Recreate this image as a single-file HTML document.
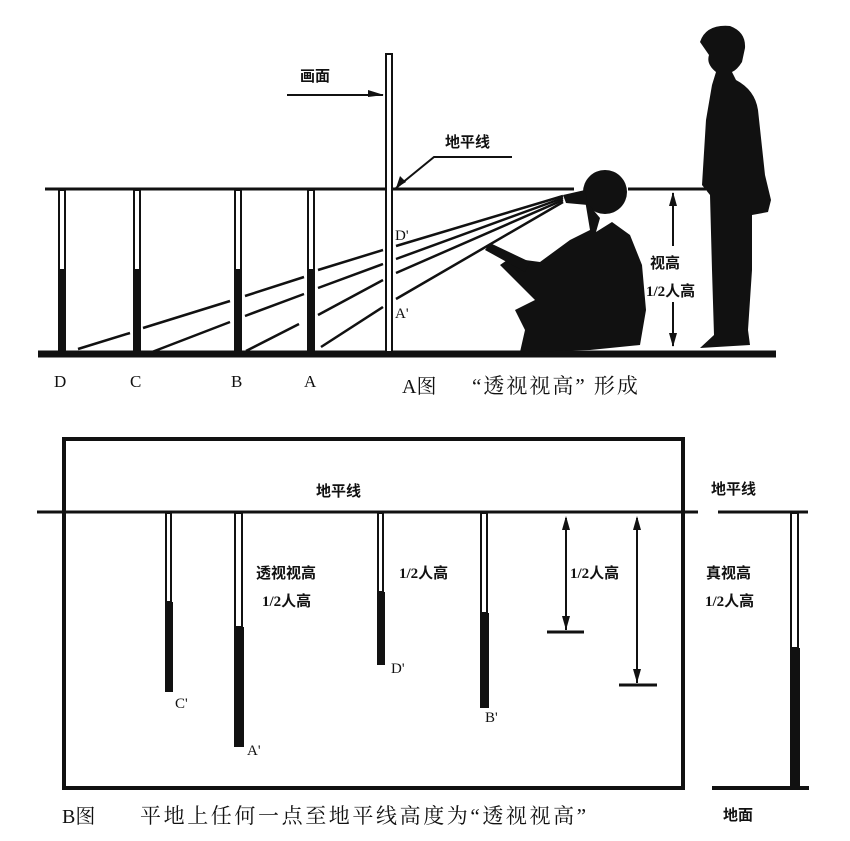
<!DOCTYPE html>
<html><head><meta charset="utf-8"><style>
html,body{margin:0;padding:0;background:#fff;}
svg{display:block;}
text{font-family:"Liberation Serif","Noto Serif CJK SC","Noto Sans CJK SC",serif;fill:#111;}
.l{font-family:"Liberation Serif","Noto Sans CJK SC",sans-serif;font-weight:bold;}
</style></head><body>
<svg width="850" height="841" viewBox="0 0 850 841" xmlns="http://www.w3.org/2000/svg">
<g stroke="#111" fill="none">
<line x1="45" y1="189" x2="574" y2="189" stroke-width="3"/>
<line x1="628" y1="189" x2="706" y2="189" stroke-width="3"/>
<line x1="38" y1="354" x2="776" y2="354" stroke-width="7"/>
<rect x="386" y="54" width="6" height="298" stroke-width="2" fill="#fff"/>
<g stroke-width="2">
<rect x="59" y="190" width="6" height="80" fill="#fff"/>
<rect x="134" y="190" width="6" height="80" fill="#fff"/>
<rect x="235" y="190" width="6" height="80" fill="#fff"/>
<rect x="308" y="190" width="6" height="80" fill="#fff"/>
</g>
<g fill="#111" stroke="none">
<rect x="58" y="270" width="8" height="84"/>
<rect x="133" y="270" width="8" height="84"/>
<rect x="234" y="270" width="8" height="84"/>
<rect x="307" y="270" width="8" height="84"/>
</g>
<g stroke-width="2.5">
<line x1="78" y1="349" x2="130" y2="333"/>
<line x1="143" y1="328" x2="230" y2="301"/>
<line x1="245" y1="296" x2="304" y2="277"/>
<line x1="318" y1="270" x2="383" y2="250"/>
<line x1="396" y1="246" x2="563" y2="196"/>
<line x1="152" y1="352" x2="230" y2="322"/>
<line x1="245" y1="316" x2="304" y2="294"/>
<line x1="318" y1="288" x2="383" y2="264"/>
<line x1="396" y1="259" x2="563" y2="198"/>
<line x1="246" y1="351" x2="299" y2="324"/>
<line x1="318" y1="315" x2="383" y2="280"/>
<line x1="396" y1="273" x2="563" y2="200"/>
<line x1="321" y1="347" x2="383" y2="307"/>
<line x1="396" y1="299" x2="563" y2="202"/>
</g>
<line x1="287" y1="95" x2="383" y2="95" stroke-width="2"/>
<path d="M368 90 L384 95 L368 97 Z" fill="#111" stroke="none"/>
<polyline points="512,157 434,157 396,188" stroke-width="2"/>
<path d="M396 188 L400 176 L406 182 Z" fill="#111" stroke="none"/>
<line x1="673" y1="193" x2="673" y2="246" stroke-width="2"/>
<line x1="673" y1="302" x2="673" y2="346" stroke-width="2"/>
<path d="M673 192 L669 206 L677 206 Z" fill="#111" stroke="none"/>
<path d="M673 347 L669 333 L677 333 Z" fill="#111" stroke="none"/>
</g>
<g fill="#111">
<ellipse cx="605" cy="192" rx="22" ry="22"/>
<path d="M585 200 L600 218 L596 232 L612 222 L630 235 L642 265 L646 310 L640 345 L590 350 L520 352 L525 330 L515 310 L535 300 L520 285 L500 265 L510 258 L540 262 L570 240 L590 230 Z"/>
<path d="M485 250 L490 243 L530 262 L525 272 Z"/>
<path d="M563 195 L585 190 L588 205 L566 203 Z"/>
</g>
<g fill="#111">
<path d="M700 42 Q706 24 730 26 Q746 32 745 48 L742 62 Q737 70 732 72 L736 80 Q755 90 758 110 L765 175 L771 200 L768 212 L752 215 L752 270 L748 330 L750 345 L700 348 L714 335 L712 270 L710 195 L702 185 L706 120 L712 85 L716 72 Q706 64 709 55 Z"/>
</g>
<g font-size="15" class="l">
<text x="300" y="81" class="l">画面</text>
<text x="445" y="147" class="l">地平线</text>
<text x="650" y="268" class="l">视高</text>
<text x="646" y="296" class="l">1/2人高</text>
</g>
<g font-size="15">
<text x="395" y="240">D'</text>
<text x="395" y="318">A'</text>
</g>
<g font-size="17">
<text x="54" y="387">D</text>
<text x="130" y="387">C</text>
<text x="231" y="387">B</text>
<text x="304" y="387">A</text>
<text x="402" y="393" font-size="20">A图</text>
<text x="472" y="393" font-size="21" letter-spacing="2">“透视视高” 形成</text>
</g>
<g stroke="#111" fill="none">
<rect x="64" y="439" width="619" height="349" stroke-width="4"/>
<line x1="37" y1="512" x2="698" y2="512" stroke-width="3"/>
<line x1="718" y1="512" x2="808" y2="512" stroke-width="3"/>
<line x1="712" y1="788" x2="809" y2="788" stroke-width="4"/>
<g stroke-width="2" fill="#fff">
<rect x="166" y="513" width="5" height="89"/>
<rect x="235" y="513" width="7" height="114"/>
<rect x="378" y="513" width="5" height="79"/>
<rect x="481" y="513" width="6" height="100"/>
<rect x="791" y="513" width="7" height="135"/>
</g>
<line x1="566" y1="518" x2="566" y2="630" stroke-width="2"/>
<line x1="547" y1="632" x2="584" y2="632" stroke-width="3"/>
<line x1="637" y1="518" x2="637" y2="683" stroke-width="2"/>
<line x1="619" y1="685" x2="657" y2="685" stroke-width="3"/>
</g>
<g fill="#111">
<rect x="165" y="602" width="8" height="90"/>
<rect x="234" y="627" width="10" height="120"/>
<rect x="377" y="592" width="8" height="73"/>
<rect x="480" y="613" width="9" height="95"/>
<rect x="790" y="648" width="10" height="140"/>
<path d="M566 516 L562 530 L570 530 Z"/>
<path d="M566 630 L562 616 L570 616 Z"/>
<path d="M637 516 L633 530 L641 530 Z"/>
<path d="M637 683 L633 669 L641 669 Z"/>
</g>
<g font-size="15" class="l">
<text x="316" y="496" class="l">地平线</text>
<text x="711" y="494" class="l">地平线</text>
<text x="256" y="578" class="l">透视视高</text>
<text x="262" y="606" class="l">1/2人高</text>
<text x="399" y="578" class="l">1/2人高</text>
<text x="570" y="578" class="l">1/2人高</text>
<text x="706" y="578" class="l">真视高</text>
<text x="705" y="606" class="l">1/2人高</text>
<text x="723" y="820" class="l">地面</text>
</g>
<g font-size="15">
<text x="175" y="708">C'</text>
<text x="247" y="755">A'</text>
<text x="391" y="673">D'</text>
<text x="485" y="722">B'</text>
</g>
<text x="62" y="823" font-size="20">B图</text>
<text x="140" y="823" font-size="21" letter-spacing="2.6">平地上任何一点至地平线高度为“透视视高”</text>
</svg>
</body></html>
